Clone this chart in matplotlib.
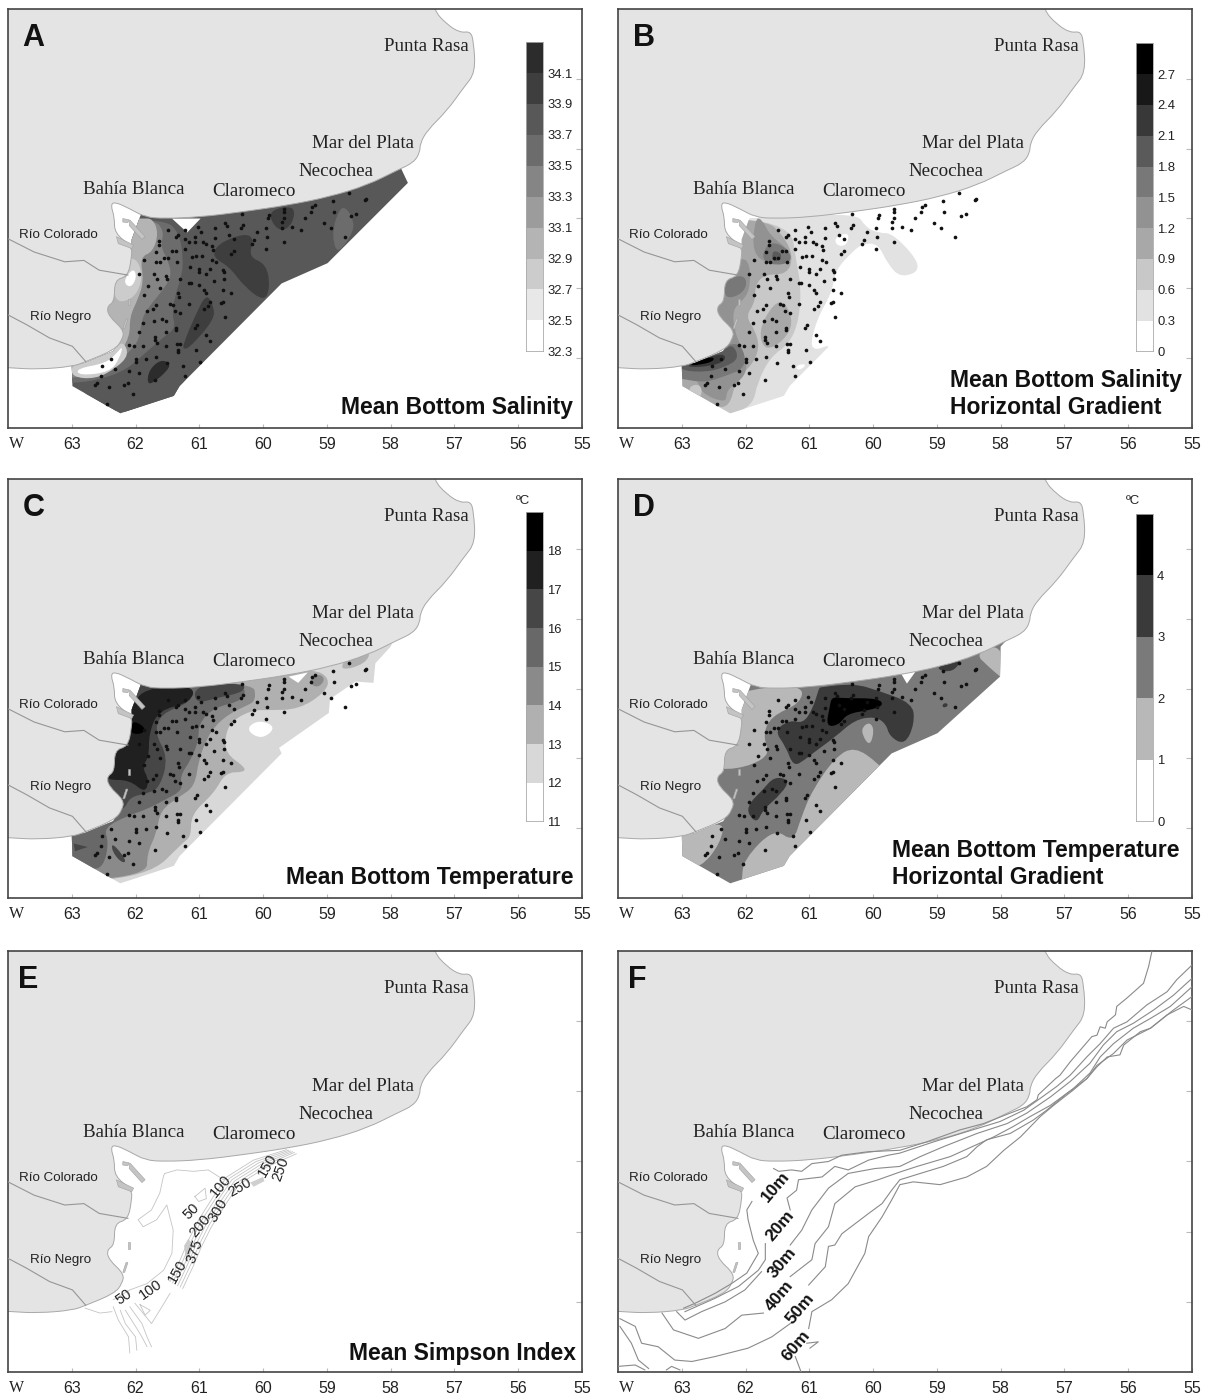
import matplotlib
matplotlib.use('Agg')
import matplotlib.pyplot as plt
from matplotlib.patches import Polygon, PathPatch
from matplotlib.path import Path

# longitudes / latitudes are degrees W / S
coast = [(57.33, 35.7), (57.33, 35.7), (57.33, 36.01), (57.12, 36.22), (56.91, 36.34), (56.75, 36.32), (56.7, 36.46), (56.67, 36.91), (56.86, 37.13),
         (57.12, 37.46), (57.43, 37.74), (57.54, 37.93), (57.54, 38.05), (57.64, 38.2), (57.9, 38.31), (58.36, 38.52), (58.96, 38.69),
         (59.62, 38.81), (60.29, 38.9), (61.0, 38.98), (61.55, 39.0), (61.85, 38.98), (62.09, 38.86), (62.33, 38.76),
         (62.39, 38.81), (62.33, 38.98), (62.33, 39.21), (62.06, 39.40), (62.06, 39.55), (62.12, 39.83), (62.33, 39.88),
         (62.33, 40.19), (62.45, 40.26), (62.42, 40.40), (62.18, 40.60), (62.21, 40.74), (62.33, 40.88), (62.78, 41.05),
         (62.99, 41.12), (63.53, 41.16), (63.95, 41.14), (64.6, 41.1), (64.6, 41.1), (64.6, 35.7), (64.6, 35.7)]
rio_colorado = [(64.0, 39.29), (63.59, 39.48), (63.11, 39.62), (62.81, 39.6), (62.57, 39.74), (62.12, 39.81)]
rio_negro = [(64.0, 40.38), (63.71, 40.52), (63.35, 40.71), (62.99, 40.83), (62.78, 41.05)]
islands = [[(62.09, 39.02), (61.85, 39.26), (61.9, 39.3), (62.1, 39.1)],
           [(62.3, 39.26), (62.03, 39.38), (62.06, 39.43), (62.27, 39.36)],
           [(62.2, 39.0), (62.1, 39.02), (62.12, 39.06), (62.2, 39.05)],
           [(62.12, 40.15), (62.09, 40.15), (62.09, 40.24), (62.12, 40.24)],
           [(62.15, 40.44), (62.12, 40.44), (62.17, 40.58), (62.2, 40.58)]]

place_names = ['Punta Rasa', 'Mar del Plata', 'Necochea', 'Bahía Blanca', 'Claromeco']
place_lon = [58.1, 59.23, 59.44, 62.82, 60.79]
place_lat = [36.53, 37.93, 38.33, 38.58, 38.62]
river_names = ['Río Colorado', 'Río Negro']
river_lon = [63.83, 63.66]
river_lat = [39.23, 40.41]

stations = [(58.66, 38.63), (58.38, 38.72), (58.41, 38.74), (58.90, 38.75), (58.89, 38.90), (59.19, 38.81), (59.23, 38.84),
            (59.25, 38.9), (59.35, 39), (58.54, 38.93), (58.62, 38.96), (59.05, 39.06), (58.94, 39.13), (58.72, 39.26),
            (59.41, 39.16), (59.55, 39.12), (59.67, 38.86), (59.67, 38.9), (59.67, 39), (59.7, 39.05), (59.7, 39.14),
            (59.67, 39.33), (59.91, 38.95), (59.93, 39), (59.95, 39.13), (59.94, 39.26), (59.96, 39.43), (60.1, 39.19),
            (60.14, 39.31), (60.17, 39.37), (60.33, 38.93), (60.32, 39.1), (60.35, 39.13), (60.59, 39.06), (60.56, 39.11),
            (60.75, 39.14), (60.75, 39.28), (60.54, 39.23), (60.45, 39.29), (60.45, 39.46), (60.5, 39.51), (61.02, 39.12),
            (60.98, 39.2), (61.07, 39.27), (61.07, 39.34), (60.95, 39.33), (60.89, 39.36), (60.8, 39.4), (60.78, 39.45),
            (61.23, 39.16), (61.23, 39.29), (61.34, 39.24), (61.37, 39.27), (61.49, 39.17), (61.16, 39.33), (61.23, 39.43),
            (61.64, 39.32), (61.64, 39.38), (61.68, 39.48), (61.43, 39.46), (61.37, 39.46), (61.55, 39.56), (61.49, 39.57),
            (61.35, 39.62), (61.62, 39.62), (61.68, 39.63), (61.86, 39.6), (61.11, 39.55), (61.05, 39.54), (60.96, 39.53),
            (61.14, 39.7), (61.0, 39.73), (61, 39.76), (60.89, 39.8), (60.8, 39.6), (60.74, 39.62), (60.84, 39.73),
            (60.63, 39.74), (60.61, 39.76), (60.62, 39.86), (60.77, 39.89), (60.63, 40.02), (60.51, 40.06), (60.63, 40.19),
            (60.66, 40.21), (60.59, 40.41), (60.84, 40.2), (60.86, 40.25), (60.92, 40.29), (60.92, 40.02), (60.9, 40.06),
            (61.16, 39.93), (61.13, 39.93), (61, 39.95), (61.31, 39.86), (61.34, 40.07), (61.32, 40.13), (61.16, 40.22),
            (61.71, 39.79), (61.66, 39.87), (61.53, 39.83), (61.5, 39.86), (61.94, 39.8), (61.8, 39.97), (61.61, 40),
            (61.86, 40.1), (61.68, 40.24), (61.73, 40.29), (61.82, 40.32), (61.46, 40.22), (61.42, 40.24), (61.38, 40.32),
            (61.31, 40.36), (61.88, 40.49), (61.71, 40.47), (61.58, 40.44), (61.53, 40.47), (61.37, 40.57), (61.37, 40.6),
            (61.04, 40.52), (61.07, 40.57), (61.53, 40.62), (61.94, 40.63), (60.89, 40.67), (60.83, 40.75), (61.7, 40.69),
            (61.7, 40.74), (61.66, 40.78), (62.1, 40.81), (62.03, 40.83), (61.88, 40.83), (61.53, 40.82), (61.35, 40.8),
            (61.31, 40.8), (61.34, 40.88), (61.34, 40.91), (61.05, 40.88), (60.99, 41.05), (62.38, 41.01), (62, 41.01),
            (61.99, 41.06), (61.83, 41.01), (61.68, 40.98), (61.5, 41.07), (61.26, 41.11), (62.52, 41.11), (62.33, 41.16),
            (62.1, 41.19), (61.94, 41.21), (61.22, 41.26), (62.54, 41.25), (61.7, 41.31), (62.12, 41.36), (62.18, 41.38),
            (62.42, 41.42), (62.6, 41.36), (62.64, 41.39), (62.04, 41.52), (62.44, 41.66)]

# sampled area, shared southern / western edge
shelf_edge = [(58.99, 39.64), (59.71, 39.93), (61.31, 41.40), (61.40, 41.54), (62.24, 41.79), (62.99, 41.40), (63, 41.1),
              (62.8, 41.07), (62.35, 40.9), (62.25, 40.75), (62.2, 40.6), (62.45, 40.4), (62.5, 40.26), (62.35, 40.19),
              (62.35, 39.88), (62.15, 39.83), (62.06, 39.55), (62.06, 39.3), (61.9, 38.9), (60.0, 38.7), (58.5, 38.3)]
domain_ab = [(57.88, 38.2), (57.73, 38.49)] + shelf_edge
domain_c = [(57.95, 38.3), (58.0, 38.4), (58.24, 38.64), (58.27, 38.92), (58.55, 38.9), (58.95, 39.15), (58.97, 39.35),
            (59.75, 39.85)] + shelf_edge[1:]
domain_d = [(57.9, 38.3), (58.0, 38.4), (58.01, 38.83)] + shelf_edge

# A: mean bottom salinity
a_levels = [32.3, 32.5, 32.7, 32.9, 33.1, 33.3, 33.5, 33.7, 33.9, 34.1, 34.3]
a_greys = ['#ffffff', '#e8e8e8', '#cccccc', '#b4b4b4', '#9c9c9c', '#858585', '#6c6c6c', '#585858', '#3e3e3e', '#2c2c2c']
a_base = 7
a_fills = [
    (6, [(58.9, 39.12), (58.81, 38.88), (58.72, 38.83), (58.6, 38.98), (58.57, 39.17), (58.81, 39.5), (58.9, 39.36)]),
    (8, [(60.80, 39.55), (60.71, 39.36), (60.29, 39.21), (60.14, 39.29), (60.23, 39.55), (59.95, 39.65), (59.89, 39.98),
         (59.98, 40.19), (60.29, 39.98), (60.53, 39.69)]),
    (8, [(59.9, 38.88), (59.5, 38.81), (59.53, 39.07), (59.71, 39.19), (59.86, 39.07)]),
    (6, [(61.55, 39.0), (61.31, 39.21), (61.25, 39.6), (61.28, 39.83), (61.37, 40.07), (61.43, 40.36), (61.37, 40.57),
         (61.55, 40.69), (61.85, 40.93), (62.15, 41.17), (62.57, 41.31), (63, 41.36), (63.53, 41.36), (63.53, 39.0)]),
    (8, [(61.25, 40.79), (61.07, 40.40), (60.89, 40.07), (60.77, 40.26), (60.77, 40.45), (61.13, 40.83), (61.25, 40.88)]),
    (7, [(62.09, 41.36), (61.85, 41.02), (61.49, 40.88), (61.25, 40.93), (61.13, 41.17), (61.25, 41.36), (61.4, 41.6),
         (62.3, 41.85), (63, 41.4)]),
    (9, [(61.79, 41.17), (61.61, 41.02), (61.46, 41.07), (61.49, 41.17), (61.73, 41.36), (61.82, 41.36)]),
    (5, [(61.73, 39.0), (61.55, 39.17), (61.61, 39.4), (61.49, 39.6), (61.43, 39.83), (61.61, 40.07), (61.79, 40.26),
         (61.91, 40.45), (61.94, 40.74), (62.12, 40.93), (62.45, 41.21), (63, 41.29), (63.5, 41.29), (63.5, 39.0)]),
    (3, [(61.9, 39), (61.73, 39), (61.64, 39.21), (61.73, 39.48), (61.93, 39.55), (61.87, 39.9), (61.97, 40.17),
         (62.09, 40.4), (62.09, 40.7), (62.3, 41.0), (62.6, 41.15), (63, 41.22), (63.5, 41.22), (63.5, 39)]),
    (2, [(62.06, 39.55), (61.93, 39.65), (61.9, 39.93), (62.06, 40.17), (62.35, 40.2), (62.35, 39.6)]),
    (2, [(62.2, 40.75), (62.1, 40.95), (62.3, 41.14), (62.63, 41.3), (63, 41.27), (63, 41.1), (62.78, 41.05), (62.33, 40.88)]),
    (0, [(62.03, 39.7), (61.98, 39.85), (62.08, 40), (62.2, 39.9)]),
    (0, [(62.93, 41.15), (62.45, 41.07), (62.27, 40.9), (62.2, 40.83), (62.25, 41.0), (62.4, 41.2), (62.88, 41.25)]),
    (0, [(61.43, 39), (60.98, 39), (61.19, 39.2)]),
]

# B: salinity gradient
b_levels = [0, 0.3, 0.6, 0.9, 1.2, 1.5, 1.8, 2.1, 2.4, 2.7, 3.0]
b_ticklabels = ['0', '0.3', '0.6', '0.9', '1.2', '1.5', '1.8', '2.1', '2.4', '2.7']
b_greys = ['#ffffff', '#e2e2e2', '#c8c8c8', '#a8a8a8', '#929292', '#787878', '#5a5a5a', '#383838', '#181818', '#000000']
b_base = 0
b_fills = [
    (1, [(61.55, 39), (60.26, 38.92), (60.12, 39.12), (59.92, 39.21), (59.68, 39.21), (59.2, 39.71), (59.56, 39.86),
         (59.78, 39.64), (59.92, 39.36), (60.17, 39.36), (60.35, 39.5), (60.59, 39.74), (60.65, 40.07), (60.89, 40.45),
         (61.01, 40.93), (60.56, 40.76), (61.31, 41.4), (61.40, 41.6), (62.3, 41.9), (63.5, 41.5), (63.5, 39)]),
    (0, [(60.6, 39.27), (60.4, 39.2), (60.38, 39.3), (60.45, 39.4), (60.58, 39.38)]),
    (0, [(61.2, 41.1), (61.05, 41.08), (61.1, 41.15), (61.2, 41.17)]),
    (2, [(61.31, 39.0), (61.19, 39.69), (61.13, 39.98), (61.16, 40.45), (61.31, 40.79), (61.61, 40.98), (61.82, 41.36),
         (61.88, 41.67), (62.3, 41.85), (63.5, 41.5), (63.5, 39)]),
    (3, [(61.7, 39), (61.4, 39.25), (61.25, 39.55), (61.35, 39.8), (61.7, 39.8), (61.85, 39.95), (61.85, 40.2), (62, 40.4),
         (61.85, 40.6), (61.78, 40.85), (61.9, 41.1), (62.15, 41.3), (62.25, 41.7), (62.5, 41.7), (63.5, 41.5), (63.5, 39)]),
    (3, [(61.55, 40.2), (61.37, 40.2), (61.25, 40.5), (61.4, 40.75), (61.7, 40.9), (61.8, 40.6)]),
    (4, [(61.85, 39.0), (61.75, 39.0), (61.61, 39.25), (61.31, 39.45), (61.28, 39.64), (61.61, 39.67), (61.9, 39.5)]),
    (5, [(61.61, 39.31), (61.31, 39.45), (61.28, 39.64), (61.61, 39.67), (61.76, 39.55)]),
    (6, [(61.58, 39.45), (61.43, 39.5), (61.46, 39.6), (61.58, 39.62)]),
    (4, [(62.06, 39.55), (61.93, 39.65), (61.93, 40.02), (62.06, 40.19), (62.2, 40.3), (62.18, 40.6), (62.06, 40.85),
         (61.97, 41.12), (62.05, 41.3), (62.3, 41.45), (62.3, 41.65), (62.7, 41.5), (62.75, 41.3), (63, 41.25), (63.5, 41.25),
         (63.5, 39.55)]),
    (2, [(62.9, 41.4), (62.7, 41.37), (62.68, 41.55), (62.85, 41.6)]),
    (5, [(62.33, 39.88), (62.03, 39.8), (61.97, 39.95), (62.09, 40.1), (62.33, 40.15)]),
    (5, [(62.15, 40.74), (62, 40.95), (62.03, 41.15), (62.3, 41.25), (62.63, 41.35), (63, 41.3), (63.5, 41.2), (63.5, 41.05),
         (62.7, 41.0)]),
    (6, [(62.2, 40.8), (62.1, 41), (62.3, 41.12), (62.6, 41.2), (63, 41.18), (63, 41.1), (62.78, 41.05), (62.33, 40.88)]),
    (7, [(62.35, 40.92), (62.3, 41.03), (62.55, 41.12), (62.95, 41.13), (62.78, 41.05)]),
    (9, [(62.5, 40.97), (62.5, 41.05), (62.75, 41.1), (62.88, 41.1), (62.78, 41.05)]),
]

# C: mean bottom temperature
c_levels = [11, 12, 13, 14, 15, 16, 17, 18, 19]
c_greys = ['#ffffff', '#d8d8d8', '#b0b0b0', '#8a8a8a', '#686868', '#464646', '#202020', '#000000']
c_base = 1
c_fills = [
    (0, [(60.25, 39.55), (60.05, 39.45), (59.8, 39.55), (59.98, 39.71), (60.17, 39.67)]),
    (2, [(59.2, 38.72), (58.96, 38.85), (59.02, 39.05), (59.44, 39.3), (59.92, 39.31), (60.17, 39.31), (60.47, 39.45),
         (60.59, 39.64), (60.59, 39.93), (60.29, 40.12), (60.29, 40.2), (60.59, 40.2), (60.77, 40.5), (61.13, 40.8),
         (61.13, 41.12), (61.25, 41.2), (61.8, 41.7), (63.5, 41.8), (63.5, 38.9), (59.9, 38.8)]),
    (2, [(58.7, 38.55), (58.3, 38.45), (58.4, 38.65), (58.8, 38.75)]),
    (0, [(59.6, 38.83), (59.3, 38.77), (59.45, 38.92)]),
    (3, [(60.17, 38.88), (60.1, 39.17), (60.29, 39.26), (60.53, 39.36), (60.77, 39.55), (60.89, 39.74), (61.01, 40.02),
         (61.07, 40.4), (61.31, 40.55), (61.61, 40.74), (61.67, 41.07), (61.82, 41.36), (61.82, 41.68), (63.5, 41.8),
         (63.5, 38.9)]),
    (3, [(59.3, 38.9), (59.13, 38.78), (59.02, 38.87), (59.15, 39.0)]),
    (4, [(60.29, 38.9), (60.29, 39.17), (60.77, 39.27), (61.01, 39.5), (61.01, 39.74), (61.13, 40.02), (61.31, 40.26),
         (61.25, 40.45), (61.55, 40.6), (61.85, 40.74), (62.15, 40.83), (62.5, 41), (62.42, 41.2), (62.5, 41.55),
         (62.7, 41.6), (63.5, 41.5), (63.5, 38.9)]),
    (5, [(61.07, 38.95), (61.13, 39.2), (61.61, 39.36), (61.7, 39.64), (61.49, 39.98), (61.61, 40.4), (61.79, 40.5),
         (62.09, 40.55), (62.18, 40.75), (62.5, 40.75), (63.5, 40.5), (63.5, 38.9)]),
    (5, [(60.29, 38.92), (60.3, 39.05), (60.7, 39.13), (61.07, 39.22), (61.07, 38.95)]),
    (5, [(62.97, 41.22), (62.75, 41.27), (62.95, 41.33)]),
    (5, [(62.37, 41.2), (62.13, 41.47), (62.22, 41.5), (62.37, 41.33)]),
    (6, [(61.9, 39), (61.07, 38.95), (61.13, 39.2), (61.64, 39.31), (61.79, 39.64), (61.79, 39.98), (61.9, 40.12),
         (61.79, 40.31), (61.85, 40.5), (62.09, 40.31), (62.45, 40.31), (62.5, 40.2), (62.5, 39.8), (62.4, 39.3), (62.05, 39.3)]),
    (7, [(62.06, 39.45), (61.85, 39.55), (61.88, 39.65), (62.09, 39.65)]),
]

# D: temperature gradient
d_levels = [0, 1, 2, 3, 4, 5]
d_greys = ['#ffffff', '#b8b8b8', '#7a7a7a', '#3a3a3a', '#000000']
d_base = 2
d_fills = [
    (1, [(61.9, 39), (61.1, 38.95), (61.13, 39.21), (61.61, 39.4), (61.73, 39.69), (61.61, 39.93), (61.9, 40.1), (62.33, 40.17),
         (62.5, 40.1), (62.5, 39.2)]),
    (1, [(63, 41.12), (62.33, 40.88), (62.39, 41.21), (62.7, 41.57), (63.1, 41.6), (63.1, 41.1)]),
    (1, [(62.06, 41.85), (62.06, 41.75), (62.03, 41.45), (61.55, 41.0), (61.25, 41.2), (61.13, 40.85), (60.95, 40.45), (60.59, 39.98),
         (60.29, 39.83), (59.92, 40.07), (59.7, 40.3), (61, 41.9)]),
    (1, [(58.4, 38.5), (58, 38.35), (57.9, 38.9), (58.01, 38.83), (58.2, 38.68)]),
    (1, [(60.17, 39.55), (60.05, 39.48), (59.98, 39.6), (60.05, 39.83), (60.17, 39.67)]),
    (3, [(60.83, 38.98), (60.29, 38.93), (59.92, 39.03), (59.38, 39.21), (59.35, 39.5), (59.5, 39.81), (59.74, 39.69),
         (59.8, 39.5), (59.98, 39.4), (60.29, 39.45), (60.59, 39.69), (60.95, 39.93), (61.07, 40.02), (61.25, 40.12),
         (61.37, 39.83), (61.55, 39.6), (61.3, 39.45), (61.1, 39.5), (60.95, 39.3), (60.85, 39.0)]),
    (3, [(61.55, 40.26), (61.31, 40.31), (61.43, 40.5), (61.73, 40.74), (61.82, 40.93), (61.97, 40.79), (61.94, 40.64),
         (61.73, 40.45)]),
    (3, [(59.02, 38.69), (58.6, 38.57), (58.72, 38.74), (58.9, 38.76)]),
    (3, [(58.92, 39.23), (58.85, 39.2), (58.82, 39.25), (58.9, 39.28)]),
    (4, [(60.65, 39.12), (60.47, 39.14), (59.92, 39.14), (59.83, 39.24), (60.05, 39.31), (60.41, 39.36), (60.53, 39.52),
         (60.74, 39.55), (60.68, 39.26)]),
    (0, [(59.56, 38.79), (59.32, 38.74), (59.47, 38.93)]),
]

# E: Simpson index isolines
simpson_lines = [
    [(61.54, 39.17), (61.35, 39.12), (61.09, 39.14), (60.86, 39.12), (60.62, 39.26)],
    [(61.54, 39.17), (61.56, 39.2), (61.62, 39.45), (61.75, 39.69), (61.96, 39.83), (61.88, 39.93), (61.67, 39.83), (61.51, 39.62),
     (61.41, 39.98), (61.43, 40.31), (61.56, 40.55), (61.82, 40.74), (62.09, 40.83), (62.35, 40.97)],
    [(61.07, 39.5), (60.91, 39.38), (60.89, 39.53), (61.01, 39.57), (61.07, 39.5)],
    [(61.46, 40.71), (61.3, 40.4), (61.17, 40.12), (61.01, 39.83), (60.78, 39.5), (60.57, 39.22), (60.15, 38.98), (59.63, 38.83)],
    [(61.42, 40.73), (61.26, 40.42), (61.13, 40.14), (60.97, 39.85), (60.74, 39.52), (60.53, 39.24), (60.11, 39.0), (59.6, 38.84)],
    [(61.38, 40.75), (61.22, 40.44), (61.09, 40.16), (60.93, 39.87), (60.7, 39.54), (60.49, 39.26), (60.07, 39.02), (59.57, 38.85)],
    [(61.34, 40.77), (61.18, 40.46), (61.05, 40.18), (60.89, 39.89), (60.66, 39.56), (60.45, 39.28), (60.03, 39.04), (59.54, 38.86)],
    [(61.3, 40.79), (61.14, 40.48), (61.01, 40.2), (60.85, 39.91), (60.62, 39.58), (60.41, 39.3), (59.99, 39.06), (59.51, 38.87)],
    [(61.26, 40.81), (61.1, 40.5), (60.97, 40.22), (60.81, 39.93), (60.58, 39.6), (60.37, 39.32), (59.95, 39.08), (59.48, 38.89)],
    [(62.79, 41.09), (62.56, 41.16), (62.37, 41.14)],
    [(62.35, 41.07), (62.27, 41.26), (62.11, 41.5), (62.09, 41.73)],
    [(62.24, 41.12), (62.16, 41.31), (62.0, 41.5), (61.98, 41.69)],
    [(62.16, 41.12), (62.0, 41.35), (61.9, 41.5), (61.82, 41.64)],
    [(62.09, 41.07), (61.9, 41.31), (61.82, 41.5), (61.75, 41.64)],
    [(62.01, 41.02), (61.75, 41.31), (61.62, 41.12), (61.46, 40.88)],
    [(61.93, 41.04), (61.77, 41.12), (61.85, 41.19), (61.93, 41.04)],
]
simpson_patches = [[(61.24, 40.2), (61.17, 40.1), (61.1, 40.2), (61.2, 40.45)],
                   [(60.2, 39.3), (60.0, 39.22), (59.98, 39.28), (60.15, 39.36)]]
simpson_labels = ['50', '100', '150', '375', '200', '300', '50', '100', '250', '150', '250']
simpson_lon = [62.19, 61.76, 61.34, 61.07, 60.99, 60.7, 61.13, 60.66, 60.37, 59.93, 59.73]
simpson_lat = [40.93, 40.82, 40.57, 40.28, 39.92, 39.7, 39.71, 39.35, 39.37, 39.05, 39.11]
simpson_rot = [35, 35, 60, 70, 50, 60, 45, 50, 30, 60, 70]

# F: isobaths, one list per drawn stretch
depth_10_south = [(62.97, 41.09), (62.79, 41.02), (62.48, 40.88), (62.22, 40.74), (61.98, 40.59), (61.8, 40.31), (61.88, 40.12),
                  (61.96, 39.83), (61.98, 39.69), (61.9, 39.57)]
depth_10_north = [(61.56, 39.1), (61.48, 39.14), (61.28, 39.12), (61.12, 39.14), (60.96, 39.03), (60.7, 39.0), (60.49, 38.91),
                  (60.07, 38.86), (59.58, 38.84), (59.16, 38.72), (58.64, 38.55), (58.27, 38.46), (57.85, 38.31), (57.59, 38.22),
                  (57.43, 38.12), (57.41, 38.05), (57.27, 37.93), (57.14, 37.82), (57.07, 37.77), (56.91, 37.58), (56.75, 37.41),
                  (56.57, 37.22), (56.49, 37.2), (56.44, 37.08), (56.36, 37.1), (56.33, 37.01), (56.2, 36.91), (56.18, 36.79),
                  (56.02, 36.67), (55.76, 36.46), (55.68, 36.22), (55.63, 36.01)]
depth_20_south = [(62.95, 41.14), (62.48, 40.95), (62.11, 40.78), (61.8, 40.55), (61.69, 40.4), (61.69, 40.17)]
depth_20_north = [(61.3, 39.69), (61.35, 39.52), (61.2, 39.41), (61.17, 39.26), (60.8, 39.22), (60.6, 39.07), (60.39, 39.12),
                  (60.07, 38.98), (59.76, 38.91), (59.58, 38.88), (59.05, 38.72), (58.37, 38.53), (58.01, 38.43), (57.64, 38.27),
                  (57.38, 38.1), (57.12, 37.93), (56.91, 37.77), (56.65, 37.51), (56.44, 37.32), (56.23, 37.1), (56.02, 37.01),
                  (55.71, 36.77), (55.39, 36.58), (55.24, 36.41), (55.0, 36.2)]
depth_30_south = [(63.08, 41.14), (62.95, 41.26), (62.69, 41.14), (62.32, 41.0), (62.01, 40.83), (61.75, 40.57)]
depth_30_north = [(61.3, 40.19), (61.12, 39.98), (60.96, 39.69), (60.7, 39.38), (60.39, 39.17), (59.97, 39.1), (59.58, 39.07),
                  (59.26, 38.93), (58.9, 38.79), (58.37, 38.6), (57.9, 38.46), (57.59, 38.31), (57.22, 38.08), (56.91, 37.86),
                  (56.6, 37.6), (56.39, 37.34), (56.18, 37.15), (55.92, 37.03), (55.6, 36.84), (55.29, 36.63), (55.0, 36.39)]
depth_40_south = [(63.31, 41.16), (63.13, 41.4), (62.74, 41.52), (62.32, 41.38), (62.06, 41.19), (61.72, 41.16)]
depth_40_north = [(61.3, 40.64), (60.96, 40.4), (60.91, 40.17), (60.7, 39.93), (60.6, 39.6), (60.28, 39.36), (59.92, 39.26),
                  (59.58, 39.15), (59.31, 39.07), (58.79, 38.93), (58.11, 38.65), (57.8, 38.5), (57.54, 38.36), (57.22, 38.2),
                  (56.86, 37.96), (56.6, 37.74), (56.44, 37.51), (56.23, 37.32), (55.92, 37.1), (55.65, 36.96), (55.34, 36.79),
                  (55.0, 36.51)]
depth_50_south = [(63.97, 41.24), (63.73, 41.35), (63.63, 41.59), (63.37, 41.64), (63.11, 41.83), (62.84, 41.85), (62.48, 41.78),
                  (61.96, 41.66), (61.59, 41.5), (61.3, 41.31)]
depth_50_north = [(61.01, 40.76), (60.75, 40.5), (60.7, 40.21), (60.6, 40.19), (60.49, 40.03), (60.07, 39.74), (59.86, 39.6),
                  (59.71, 39.41), (59.58, 39.26), (59.26, 39.17), (58.9, 39.07), (58.53, 38.93), (58.37, 38.79), (58.22, 38.69),
                  (57.85, 38.6), (57.49, 38.41), (57.28, 38.27), (56.96, 38.03), (56.65, 37.82), (56.49, 37.63), (56.23, 37.46),
                  (56.02, 37.27), (55.65, 37.1), (55.29, 36.84), (55.0, 36.65)]
depth_60_stub = [(61.22, 41.78), (61.15, 41.95), (61.13, 42.0)]
depth_60_north = [(61.01, 41.38), (60.96, 41.14), (60.65, 40.97), (60.39, 40.74), (60.13, 40.31), (60.07, 40.07), (59.86, 39.79),
                  (59.71, 39.55), (59.58, 39.33), (59.37, 39.29), (58.95, 39.33), (58.53, 39.22), (58.22, 39.07), (57.95, 38.84),
                  (57.69, 38.65), (57.38, 38.36), (57.17, 38.2), (56.86, 37.98), (56.65, 37.82), (56.49, 37.65), (56.33, 37.51),
                  (56.13, 37.48), (56.07, 37.34), (55.81, 37.15), (55.65, 37.1), (55.39, 36.91), (55.13, 36.79), (55.0, 36.84)]
depth_loop = [(61.04, 41.59), (60.86, 41.57), (60.99, 41.66)]
depth_corner = [(63.97, 41.35), (63.79, 41.59), (63.68, 41.83), (63.52, 41.95)]
depth_floor_a = [(64.0, 41.92), (63.73, 41.9), (63.58, 41.97)]
depth_floor_b = [(63.24, 41.97), (63.16, 41.92), (63.03, 41.97)]
depth_lines = [depth_10_south, depth_10_north, depth_20_south, depth_20_north, depth_30_south, depth_30_north, depth_40_south,
               depth_40_north, depth_50_south, depth_50_north, depth_60_stub, depth_60_north, depth_loop, depth_corner,
               depth_floor_a, depth_floor_b]
depth_labels = ['10m', '20m', '30m', '40m', '50m', '60m']
depth_lon = [61.53, 61.46, 61.43, 61.47, 61.15, 61.2]
depth_lat = [39.36, 39.92, 40.44, 40.91, 41.1, 41.62]

lon_ticks = [63, 62, 61, 60, 59, 58, 57, 56, 55]
lat_ticks = [37, 38, 39, 40, 41]

land_colour = '#e4e4e4'
edge_colour = '#a8a8a8'
W, H = 1212, 1395


def rounded_path(pts):
    # quadratic segments through the edge midpoints, so outlines keep their read-off points as control points
    n = len(pts)
    mid = lambda a, b: ((a[0] + b[0]) / 2, (a[1] + b[1]) / 2)
    verts = [mid(pts[-1], pts[0])]
    codes = [Path.MOVETO]
    for i in range(n):
        verts += [pts[i], mid(pts[i], pts[(i + 1) % n])]
        codes += [Path.CURVE3, Path.CURVE3]
    return Path(verts, codes)


def make_axes(fig, left, top, right, bottom):
    ax = fig.add_axes([left / W, 1 - bottom / H, (right - left) / W, (bottom - top) / H])
    ax.set_xlim(64, 55)
    ax.set_ylim(42, 36)
    ax.set_xticks(lon_ticks)
    ax.set_xticklabels([str(v) for v in lon_ticks], fontsize=11.5, family='Liberation Sans', color='#222222')
    ax.set_yticks(lat_ticks)
    ax.set_yticklabels([])
    ax.yaxis.tick_right()
    ax.tick_params(axis='x', direction='in', length=3, pad=6.5, color='#bbbbbb')
    ax.tick_params(axis='y', direction='in', length=4, color='#bbbbbb')
    for s in ax.spines.values():
        s.set_linewidth(1.2)
        s.set_color('#444444')
    ax.text(63.87, 42.23, 'W', family='Liberation Serif', fontsize=11.5, color='#222222', ha='center', va='center', clip_on=False)
    return ax


def draw_fills(ax, domain, greys, base, fills):
    clip = Polygon(domain, closed=True, transform=ax.transData, fc='none', ec='none')
    ax.add_patch(clip)
    ax.add_patch(Polygon(domain, closed=True, fc=greys[base], ec='none', zorder=1))
    for n, (band, pts) in enumerate(fills):
        if len(pts) <= 3:
            p = Polygon(pts, closed=True, fc=greys[band], ec='none', zorder=1 + n * 0.001)
        else:
            p = PathPatch(rounded_path(pts), fc=greys[band], ec='none', zorder=1 + n * 0.001)
        ax.add_patch(p)
        p.set_clip_path(clip)


def draw_land(ax):
    ax.add_patch(PathPatch(rounded_path(coast), fc=land_colour, ec=edge_colour, lw=0.7, zorder=2))
    for river in (rio_colorado, rio_negro):
        ax.plot([p[0] for p in river], [p[1] for p in river], color='#969696', lw=0.8, zorder=3)
    for isl in islands:
        ax.add_patch(Polygon(isl, closed=True, fc='#c4c4c4', ec='#a0a0a0', lw=0.4, zorder=3))
    for name, x, y in zip(place_names, place_lon, place_lat):
        ax.text(x, y, name, family='Liberation Serif', fontsize=13.7, color='#222222', ha='left', va='center', zorder=6)
    for name, x, y in zip(river_names, river_lon, river_lat):
        ax.text(x, y, name, family='Liberation Sans', fontsize=9.6, color='#222222', ha='left', va='center', zorder=6)


def draw_stations(ax):
    ax.scatter([p[0] for p in stations], [p[1] for p in stations], s=7, color='#111111', lw=0, zorder=5)


def draw_colourbar(ax, levels, greys, top_frac, labels=None, show_unit=False):
    cax = ax.inset_axes([0.903, 0.183, 0.029, top_frac])
    for lo, hi, col in zip(levels[:-1], levels[1:], greys):
        cax.bar(0, hi - lo, bottom=lo, width=1, color=col, lw=0)
    cax.set_xlim(-0.5, 0.5)
    cax.set_ylim(levels[0], levels[-1])
    cax.set_xticks([])
    cax.yaxis.tick_right()
    cax.set_yticks(levels[:-1])
    cax.set_yticklabels(labels if labels else [str(v) for v in levels[:-1]], fontsize=9.4, family='Liberation Sans', color='#222222')
    cax.tick_params(axis='y', length=0, pad=3)
    for s in cax.spines.values():
        s.set_linewidth(0.6)
        s.set_color('#aaaaaa')
    if show_unit:
        ax.text(55.93, 36.31, 'ºC', family='Liberation Sans', fontsize=9.5, color='#222222', ha='center', va='center', zorder=6)


def panel_text(ax, letter, title, title_x, title_y, ha, letter_x=63.77):
    ax.text(letter_x, 36.42, letter, family='Liberation Sans', weight='bold', fontsize=22, color='#111111',
            ha='left', va='center', zorder=7)
    ax.text(title_x, title_y, title, family='Liberation Sans', weight='bold', fontsize=16.5, color='#111111',
            ha=ha, va='center', linespacing=1.22, zorder=7)


fig = plt.figure(figsize=(W / 100, H / 100), dpi=100, facecolor='white')

ax_a = make_axes(fig, 8, 9, 582, 428)
draw_fills(ax_a, domain_ab, a_greys, a_base, a_fills)
draw_land(ax_a)
draw_stations(ax_a)
draw_colourbar(ax_a, a_levels, a_greys, 0.738)
panel_text(ax_a, 'A', 'Mean Bottom Salinity', 55.14, 41.7, 'right')

ax_b = make_axes(fig, 618, 9, 1192, 428)
draw_fills(ax_b, domain_ab, b_greys, b_base, b_fills)
draw_land(ax_b)
draw_stations(ax_b)
draw_colourbar(ax_b, b_levels, b_greys, 0.735, labels=b_ticklabels)
panel_text(ax_b, 'B', 'Mean Bottom Salinity\nHorizontal Gradient', 58.8, 41.52, 'left')

ax_c = make_axes(fig, 8, 479, 582, 898)
draw_fills(ax_c, domain_c, c_greys, c_base, c_fills)
draw_land(ax_c)
draw_stations(ax_c)
draw_colourbar(ax_c, c_levels, c_greys, 0.738, show_unit=True)
panel_text(ax_c, 'C', 'Mean Bottom Temperature', 55.14, 41.7, 'right')

ax_d = make_axes(fig, 618, 479, 1192, 898)
draw_fills(ax_d, domain_d, d_greys, d_base, d_fills)
draw_land(ax_d)
draw_stations(ax_d)
draw_colourbar(ax_d, d_levels, d_greys, 0.734, show_unit=True)
panel_text(ax_d, 'D', 'Mean Bottom Temperature\nHorizontal Gradient', 59.7, 41.52, 'left')

ax_e = make_axes(fig, 8, 951, 582, 1372)
for patch in simpson_patches:
    ax_e.add_patch(Polygon(patch, closed=True, fc='#cfcfcf', ec='none', zorder=1))
for line in simpson_lines:
    ax_e.plot([p[0] for p in line], [p[1] for p in line], color='#c4c4c4', lw=0.6, zorder=1)
draw_land(ax_e)
for lab, x, y, r in zip(simpson_labels, simpson_lon, simpson_lat, simpson_rot):
    ax_e.text(x, y, lab, family='Liberation Sans', fontsize=10.5, color='#222222', rotation=r, ha='center', va='center', zorder=6)
panel_text(ax_e, 'E', 'Mean Simpson Index', 55.1, 41.74, 'right', letter_x=63.85)

ax_f = make_axes(fig, 618, 951, 1192, 1372)
for line in depth_lines:
    ax_f.plot([p[0] for p in line], [p[1] for p in line], color='#8a8a8a', lw=0.8, zorder=3)
draw_land(ax_f)
for lab, x, y in zip(depth_labels, depth_lon, depth_lat):
    ax_f.text(x, y, lab, family='Liberation Sans', weight='bold', fontsize=12.5, color='#111111', rotation=50,
              ha='center', va='center', zorder=6)
ax_f.text(63.85, 36.42, 'F', family='Liberation Sans', weight='bold', fontsize=22, color='#111111', ha='left', va='center', zorder=7)

fig.savefig('out.png', dpi=100)
print('File run complete')
